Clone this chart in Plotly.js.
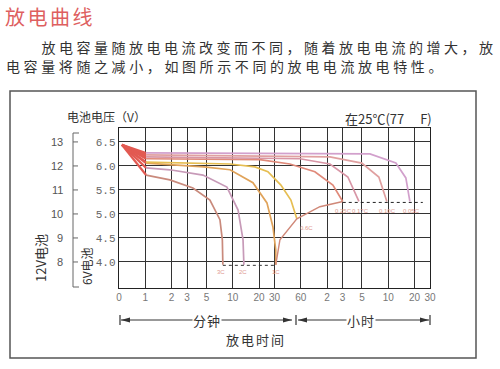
<!DOCTYPE html>
<html><head><meta charset="utf-8">
<script src="https://cdn.plot.ly/plotly-3.0.1.min.js"></script>
<style>html,body{margin:0;padding:0;background:#fff}#chart{width:500px;height:369px}</style>
</head><body><div id="chart"></div>
<script>
// ---- data (time in minutes, voltage of a 6V battery) ----
const seriesNames = ['3C','2C','1C','0.6C','0.25C','0.17C','0.10C','0.05C'];
const time_3C  = [0.54, 1.02, 1.91, 3.5, 5.48, 7.13, 7.6, 7.7];
const volt_3C  = [6.44, 5.81, 5.71, 5.54, 5.29, 4.88, 4.46, 3.94];
const time_2C  = [0.54, 1.02, 1.91, 4.56, 8.57, 11.5, 13.1, 13.4];
const volt_2C  = [6.44, 5.96, 5.92, 5.81, 5.56, 5.08, 4.46, 3.94];
const time_1C  = [0.54, 1.02, 4.68, 9.3, 17.0, 24.6, 28.8, 31.0, 31.0];
const volt_1C  = [6.44, 6.06, 5.98, 5.92, 5.65, 5.23, 4.73, 4.25, 3.94];
const time_06C = [0.54, 1.02, 9.3, 17.9, 25.2, 35.5, 46.2, 54.0];
const volt_06C = [6.44, 6.08, 6.04, 5.98, 5.88, 5.60, 5.29, 4.90];
const time_025C = [0.54, 1.02, 20.4, 45, 86.9, 139.6, 181];
const volt_025C = [6.44, 6.15, 6.13, 6.04, 5.88, 5.60, 5.26];
const time_017C = [0.54, 1.02, 58.6, 129, 207, 277];
const volt_017C = [6.44, 6.19, 6.15, 6.04, 5.77, 5.26];
const time_010C = [0.54, 1.02, 129, 299, 468, 578];
const volt_010C = [6.44, 6.23, 6.19, 6.06, 5.77, 5.26];
const time_005C = [0.54, 1.02, 370, 733, 953, 1059];
const volt_005C = [6.44, 6.27, 6.25, 6.06, 5.75, 5.26];
// end-voltage line joining the ends of the 1C, 0.6C and 0.25C curves
const time_end = [31.0, 34.6, 54.0, 99, 181];
const volt_end = [3.94, 4.46, 4.90, 5.15, 5.26];
// dotted cut-off lines
const cutHigh_t = [181, 1489], cutHigh_v = [5.24, 5.24];
const cutLow_t = [7.7, 31.5], cutLow_v = [3.93, 3.93];
// curve label positions (minutes, volts)
const labelText = ['3C','2C','1C','0.6C','0.25C','0.17C','0.10C','0.05C'];
const labelT = [7.4, 13.2, 31.5, 70, 185, 290, 590, 1100];
const labelV = [3.79, 3.79, 3.79, 4.71, 5.06, 5.06, 5.06, 5.06];
// axis ticks
const xTickVals = [0.5, 1, 2, 3, 5, 10, 20, 30, 60, 120, 180, 300, 600, 1200, 1800];
const xTickText = ['0','1','2','3','5','10','20','30','60','2','3','5','10','20','30'];
const y6Vals = [4.0, 4.5, 5.0, 5.5, 6.0, 6.5];
const y6Text = ['4.0','4.5','5.0','5.5','6.0','6.5'];
const y12Text = [8, 9, 10, 11, 12, 13];

const colors = ['#c98a7c','#c79ab8','#e0a35a','#e6be52','#e08a7a','#d896a6','#e0a0a0','#d2a0cc'];
const times = [time_3C,time_2C,time_1C,time_06C,time_025C,time_017C,time_010C,time_005C];
const volts = [volt_3C,volt_2C,volt_1C,volt_06C,volt_025C,volt_017C,volt_010C,volt_005C];

const traces = [];
// red fan near start
times.forEach((t,i)=>{
  traces.push({x:t.slice(0,2), y:volts[i].slice(0,2), mode:'lines', line:{color:'#e25a52', width:2.2}, hoverinfo:'skip', showlegend:false});
});
times.forEach((t,i)=>{
  traces.push({x:t.slice(1), y:volts[i].slice(1), mode:'lines', name:seriesNames[i], line:{color:colors[i], width:1.7}, showlegend:false});
});
traces.push({x:time_end, y:volt_end, mode:'lines', line:{color:'#d08878', width:1.4}, showlegend:false});
traces.push({x:cutHigh_t, y:cutHigh_v, mode:'lines', line:{color:'#222', width:1, dash:'3px,3px'}, showlegend:false});
traces.push({x:cutLow_t, y:cutLow_v, mode:'lines', line:{color:'#333', width:1, dash:'3px,3px'}, showlegend:false});

// ---- geometry helpers (pixel -> paper) ----
const L=119, R=430, T=128, B=288;
const px = x => (x-L)/(R-L);
const py = y => (B-y)/(B-T);
const CJK = '"Noto Sans CJK SC", sans-serif';

const shapes = [];
const ann = [];
// outer frame
shapes.push({type:'rect', xref:'paper', yref:'paper', x0:px(10), x1:px(476), y0:py(358), y1:py(91), line:{color:'#555', width:1.5}});
// 12V scale
shapes.push({type:'line', xref:'paper', yref:'paper', x0:px(73), x1:px(73), y0:py(133), y1:py(287), line:{color:'#666', width:1}});
shapes.push({type:'line', xref:'paper', yref:'paper', x0:px(73), x1:px(79), y0:py(133), y1:py(133), line:{color:'#666', width:1}});
shapes.push({type:'line', xref:'paper', yref:'paper', x0:px(73), x1:px(79), y0:py(287), y1:py(287), line:{color:'#666', width:1}});
y12Text.forEach(v=>{
  shapes.push({type:'line', xref:'paper', yref:'y', x0:px(73), x1:px(78), y0:v/2, y1:v/2, line:{color:'#666', width:1}});
  ann.push({xref:'paper', yref:'y', x:px(65), y:v/2, text:String(v), showarrow:false, xanchor:'right', yanchor:'middle', font:{family:'Liberation Sans', size:11, color:'#555'}});
});
// time arrows
const ay = 320;
[[120,315,325],[296,315,325],[430,315,325]].forEach(b=>{
  shapes.push({type:'line', xref:'paper', yref:'paper', x0:px(b[0]), x1:px(b[0]), y0:py(b[1]), y1:py(b[2]), line:{color:'#333', width:1.2}});
});
[[121,292],[298,429]].forEach(s=>{
  shapes.push({type:'line', xref:'paper', yref:'paper', x0:px(s[0]), x1:px(s[1]), y0:py(ay), y1:py(ay), line:{color:'#333', width:1}});
  const l=s[0], r=s[1];
  shapes.push({type:'path', xref:'paper', yref:'paper', path:`M${px(l)},${py(ay)} L${px(l+9)},${py(ay-2.5)} L${px(l+9)},${py(ay+2.5)} Z`, fillcolor:'#333', line:{width:0}});
  shapes.push({type:'path', xref:'paper', yref:'paper', path:`M${px(r)},${py(ay)} L${px(r-9)},${py(ay-2.5)} L${px(r-9)},${py(ay+2.5)} Z`, fillcolor:'#333', line:{width:0}});
});
// texts
ann.push({xref:'paper', yref:'paper', x:px(50), y:py(16), text:'放电曲线', showarrow:false, xanchor:'center', yanchor:'middle', font:{family:CJK, size:20, color:'#de5f5f'}});
ann.push({xref:'paper', yref:'paper', x:px(269), y:py(47), text:'放电容量随放电电流改变而不同，随着放电电流的增大，放', showarrow:false, xanchor:'center', yanchor:'middle', font:{family:CJK, size:14, color:'#333'}});
ann.push({xref:'paper', yref:'paper', x:px(226), y:py(66), text:'电容量将随之减小，如图所示不同的放电电流放电特性。', showarrow:false, xanchor:'center', yanchor:'middle', font:{family:CJK, size:14, color:'#333'}});
ann.push({xref:'paper', yref:'paper', x:px(106), y:py(117), text:'电池电压（V）', showarrow:false, xanchor:'center', yanchor:'middle', font:{family:CJK, size:12, color:'#333'}});
ann.push({xref:'paper', yref:'paper', x:px(388), y:py(118), text:'在25℃(77　 F)', showarrow:false, xanchor:'center', yanchor:'middle', font:{family:CJK, size:13, color:'#333'}});
ann.push({xref:'paper', yref:'paper', x:px(40), y:py(258), text:'12V电池', textangle:-90, showarrow:false, xanchor:'center', yanchor:'middle', font:{family:CJK, size:13, color:'#333'}});
ann.push({xref:'paper', yref:'paper', x:px(86), y:py(266), text:'6V电池', textangle:-90, showarrow:false, xanchor:'center', yanchor:'middle', font:{family:CJK, size:12, color:'#333'}});
ann.push({xref:'paper', yref:'paper', x:px(207), y:py(ay), text:'分钟', showarrow:false, xanchor:'center', yanchor:'middle', bgcolor:'#fff', font:{family:CJK, size:13, color:'#333'}});
ann.push({xref:'paper', yref:'paper', x:px(361), y:py(ay), text:'小时', showarrow:false, xanchor:'center', yanchor:'middle', bgcolor:'#fff', font:{family:CJK, size:13, color:'#333'}});
ann.push({xref:'paper', yref:'paper', x:px(256), y:py(339), text:'放电时间', showarrow:false, xanchor:'center', yanchor:'middle', font:{family:CJK, size:13, color:'#333'}});
labelText.forEach((t,i)=>{
  ann.push({xref:'x', yref:'y', x:Math.log10(labelT[i]), y:labelV[i], text:t, showarrow:false, xanchor:'center', yanchor:'middle', font:{family:'Liberation Sans', size:6, color:'#e09a90'}});
});

const layout = {
  width:500, height:369,
  margin:{l:L, r:500-R, t:T, b:369-B, pad:0},
  paper_bgcolor:'#fff', plot_bgcolor:'#fff',
  showlegend:false,
  xaxis:{type:'log', range:[Math.log10(0.5), Math.log10(1800)], tickvals:xTickVals, ticktext:xTickText,
         showgrid:true, gridcolor:'#333', gridwidth:1, showline:true, mirror:true, linecolor:'#222', linewidth:1.3,
         ticks:'', zeroline:false, tickfont:{family:'Liberation Sans', size:10, color:'#777'}, fixedrange:true},
  yaxis:{range:[3.458, 6.79], tickvals:y6Vals, ticktext:y6Text,
         showgrid:true, gridcolor:'#333', gridwidth:1, showline:true, mirror:true, linecolor:'#222', linewidth:1.3,
         ticks:'', zeroline:false, tickfont:{family:'Liberation Mono', size:11, color:'#666'}, fixedrange:true},
  shapes:shapes, annotations:ann
};
Plotly.newPlot('chart', traces, layout, {staticPlot:true, displayModeBar:false}).then(()=>{
  const spacing = {'放电曲线':'2.5px', '放电容量随放电电流改变而不同，随着放电电流的增大，放':'3.5px', '电容量将随之减小，如图所示不同的放电电流放电特性。':'3.6px', '放电时间':'2px', '分钟':'1px', '小时':'1px'};
  document.querySelectorAll('.annotation-text').forEach(el=>{
    const s = spacing[el.textContent];
    if (s) el.style.letterSpacing = s;
  });
});
</script></body></html>
